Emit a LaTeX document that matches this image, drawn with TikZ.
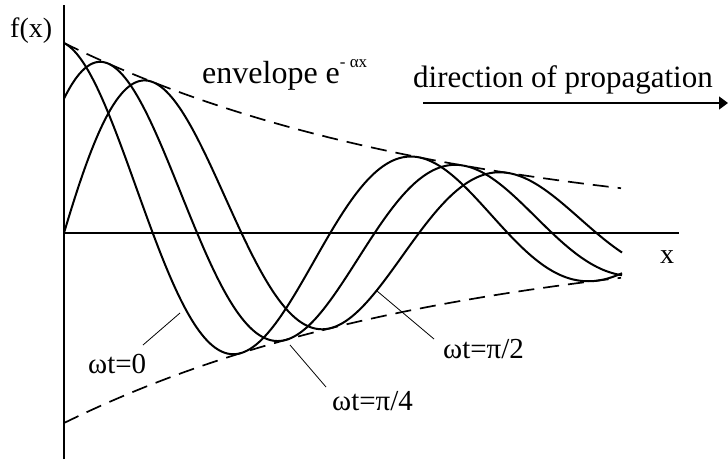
\documentclass[tikz,border=0pt]{standalone}
\usepackage{fontspec}
\setmainfont{Liberation Serif}
\usetikzlibrary{arrows.meta}
\begin{document}
\begin{tikzpicture}[x=1pt,y=-1pt,
  wave/.style={line width=2pt},
  axis/.style={line width=1.4pt},
  env/.style={line width=1.7pt,dash pattern=on 16pt off 9pt},
  leader/.style={line width=0.8pt},
  lbl/.style={inner sep=0pt,anchor=base west,font=\fontsize{29}{34}\selectfont},
  small/.style={inner sep=0pt,anchor=base west,font=\fontsize{28}{32}\selectfont}]
\useasboundingbox (0,0) rectangle (728,464);
% axes
\coordinate (ytop) at (64,5);
\coordinate (ybot) at (64,459);
\coordinate (xorg) at (64,233);
\coordinate (xend) at (679,233);
\draw[axis] (ybot) -- (ytop);
\draw[axis] (xorg) -- (xend);
\node[small] (fx) at (10,37) {f(x)};
\node[small] (xl) at (660,263) {x};
% envelope
\draw[env] plot[domain=64:621,samples=80,smooth] (\x,{233-190*exp(-0.00259*(\x-64))});
\draw[env] plot[domain=64:621,samples=80,smooth] (\x,{233+190*exp(-0.00259*(\x-64))});
% waves
\draw[wave] plot[domain=64:622,samples=220,smooth] (\x,{233-190*exp(-0.00259*(\x-64))*cos(1.01408*(\x-64))});
\draw[wave] plot[domain=64:622,samples=220,smooth] (\x,{233-190*exp(-0.00259*(\x-64))*cos(1.01408*(\x-64)-45)});
\draw[wave] plot[domain=64:622,samples=220,smooth] (\x,{233-190*exp(-0.00259*(\x-64))*cos(1.01408*(\x-64)-90)});
% texts
\node[lbl,font=\fontsize{32}{36}\selectfont] (env) at (202,83) {envelope e\raisebox{16pt}{\fontsize{17}{17}\selectfont - αx}};
\node[lbl,font=\fontsize{31}{36}\selectfont] (dir) at (413,87) {direction of propagation};
\coordinate (as) at (423,103);
\coordinate (ae) at (728,103);
\draw[line width=1.3pt,-{Triangle[length=9pt,width=13pt]}] (as) -- (ae);
% curve labels
\node[lbl] (w0) at (88,373) {ωt=0};
\node[lbl] (w4) at (332,410) {ωt=π/4};
\node[lbl] (w2) at (443,358) {ωt=π/2};
\coordinate (p0) at (180,313);
\coordinate (q0) at (143,345);
\coordinate (p4) at (290,345);
\coordinate (q4) at (326,387);
\coordinate (p2) at (377,291);
\coordinate (q2) at (434,339);
\draw[leader] (q0) -- (p0);
\draw[leader] (q4) -- (p4);
\draw[leader] (q2) -- (p2);
\end{tikzpicture}
\end{document}
